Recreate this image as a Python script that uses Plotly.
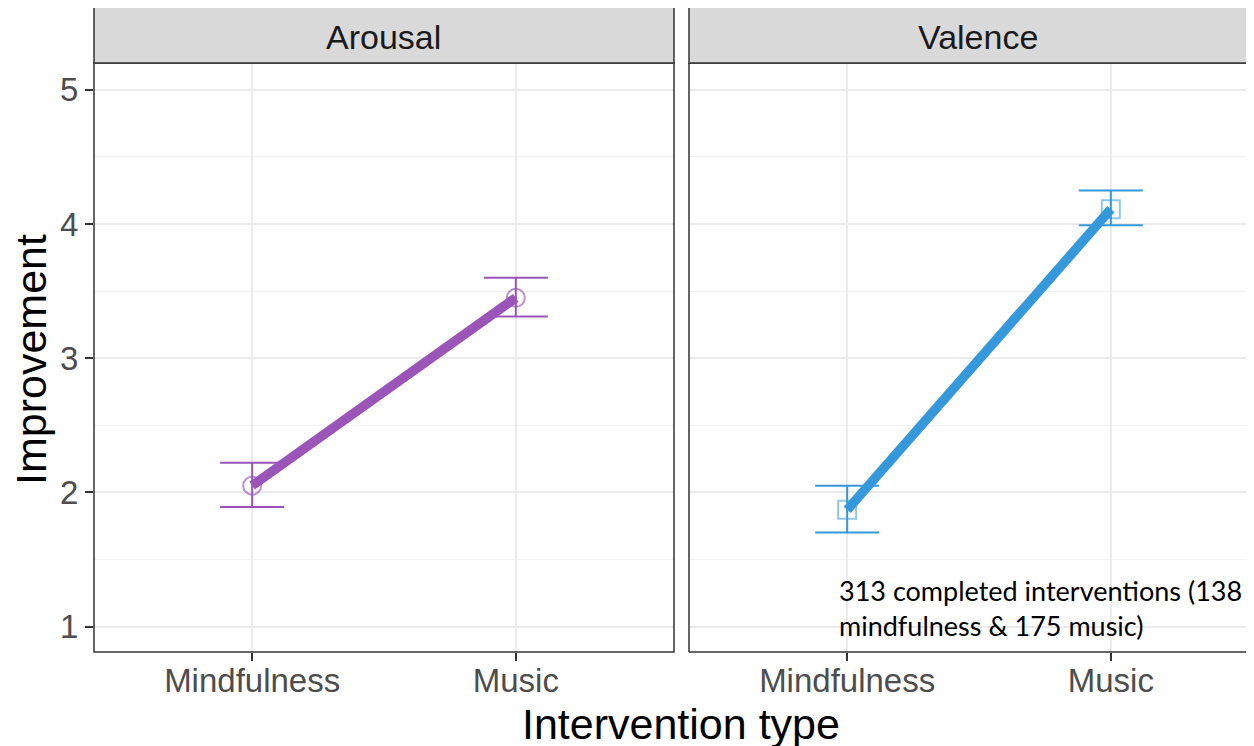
import plotly.graph_objects as go

categories = ["Mindfulness", "Music"]
panels = ["Arousal", "Valence"]
arousal_mean = [2.05, 3.45]
arousal_low = [1.89, 3.31]
arousal_high = [2.22, 3.60]
valence_mean = [1.87, 4.11]
valence_low = [1.70, 3.99]
valence_high = [2.05, 4.25]
y_ticks = [1, 2, 3, 4, 5]
note_text = "313 completed interventions (138<br>mindfulness & 175 music)"

W, H = 1254, 746
OFF = 8  # page body margin
purple = "#9b55b9"
blue = "#3498db"

fig = go.Figure()

def px_x(p):
    return (p - OFF) / W

def px_y(p):
    return 1 - (p - OFF) / H

left_dom = [px_x(94), px_x(674)]
right_dom = [px_x(689), 1.0]
y_dom = [px_y(652), px_y(63)]
unit = 580 / 2.2
right_max = -0.6 + (right_dom[1] - right_dom[0]) * W / unit

series = [
    (arousal_mean, arousal_low, arousal_high, purple, "rgba(155,85,185,0.65)", "circle-open", "x", "y"),
    (valence_mean, valence_low, valence_high, blue, "rgba(52,152,219,0.55)", "square-open", "x2", "y2"),
]
for mean, lo, hi, col, mcol, sym, xa, ya in series:
    fig.add_trace(go.Scatter(
        x=categories, y=mean, mode="lines", line=dict(color=col, width=9.5),
        xaxis=xa, yaxis=ya, showlegend=False, hoverinfo="skip"))
    fig.add_trace(go.Scatter(
        x=categories, y=mean, mode="markers",
        marker=dict(symbol=sym, size=18, color=mcol, line=dict(width=2, color=mcol)),
        error_y=dict(type="data", symmetric=False,
                     array=[h - m for h, m in zip(hi, mean)],
                     arrayminus=[m - l for m, l in zip(mean, lo)],
                     color=col, thickness=2, width=32),
        xaxis=xa, yaxis=ya, showlegend=False))

tickfont = dict(family="Liberation Sans", size=33, color="#4d4d4d")
grid = "#ebebeb"
common_x = dict(type="category", categoryorder="array", categoryarray=categories,
                showgrid=True, gridcolor=grid, gridwidth=1.5, zeroline=False,
                ticks="outside", ticklen=8, tickcolor="#333333", tickwidth=1.5,
                tickfont=tickfont, showline=False, ticklabelstandoff=-9)
common_y = dict(range=[0.81, 5.2], tickvals=y_ticks, showgrid=True, gridcolor=grid,
                gridwidth=1.5, zeroline=False, ticklen=8,
                tickcolor="#333333", tickwidth=1.5, tickfont=tickfont, showline=False,
                minor=dict(showgrid=True, dtick=0.5, tick0=0.5, gridcolor="#f3f3f3", gridwidth=1))

fig.update_layout(
    width=W, height=H, margin=dict(l=0, r=0, t=0, b=0),
    plot_bgcolor="white", paper_bgcolor="white",
    xaxis=dict(domain=left_dom, range=[-0.6, 1.6], anchor="y", **common_x),
    yaxis=dict(domain=y_dom, anchor="x", ticks="outside", **common_y),
    xaxis2=dict(domain=right_dom, range=[-0.6, right_max], anchor="y2", **common_x),
    yaxis2=dict(domain=y_dom, anchor="x2", showticklabels=False, ticks="", **common_y),
)

border = dict(color="#333333", width=1.5)
fig.add_shape(type="rect", xref="paper", yref="paper", x0=left_dom[0], x1=left_dom[1],
              y0=y_dom[0], y1=y_dom[1], line=border, fillcolor="rgba(0,0,0,0)", layer="above")
for (x0, y0, x1, y1) in [(right_dom[0], y_dom[0], right_dom[0], y_dom[1]),
                         (right_dom[0], y_dom[0], 1.01, y_dom[0]),
                         (right_dom[0], y_dom[1], 1.01, y_dom[1])]:
    fig.add_shape(type="line", xref="paper", yref="paper", x0=x0, y0=y0, x1=x1, y1=y1,
                  line=border, layer="above")
strip_top = px_y(7)
fig.add_shape(type="rect", xref="paper", yref="paper", x0=left_dom[0], x1=left_dom[1],
              y0=y_dom[1], y1=strip_top, line=border, fillcolor="#d9d9d9")
fig.add_shape(type="rect", xref="paper", yref="paper", x0=right_dom[0], x1=1.05,
              y0=y_dom[1], y1=strip_top, line=border, fillcolor="#d9d9d9")
stripfont = dict(family="Liberation Sans", size=34, color="#1a1a1a")
fig.add_annotation(text=panels[0], xref="paper", yref="paper", x=px_x(383), y=px_y(37),
                   xanchor="center", yanchor="middle", showarrow=False, font=stripfont)
fig.add_annotation(text=panels[1], xref="paper", yref="paper", x=px_x(978), y=px_y(37),
                   xanchor="center", yanchor="middle", showarrow=False, font=stripfont)

titlefont = dict(family="Liberation Sans", size=43, color="black")
fig.add_annotation(text="Intervention type", xref="paper", yref="paper", x=px_x(681), y=px_y(724),
                   xanchor="center", yanchor="middle", showarrow=False, font=titlefont)
fig.add_annotation(text="Improvement", xref="paper", yref="paper", x=px_x(31), y=px_y(360),
                   xanchor="center", yanchor="middle", showarrow=False, font=titlefont,
                   textangle=-90)
fig.add_annotation(text=note_text, xref="paper", yref="paper", x=px_x(837), y=px_y(572),
                   xanchor="left", yanchor="top", align="left", showarrow=False,
                   font=dict(family="Lato", size=27, color="black"))

fig.write_html("out.html")
